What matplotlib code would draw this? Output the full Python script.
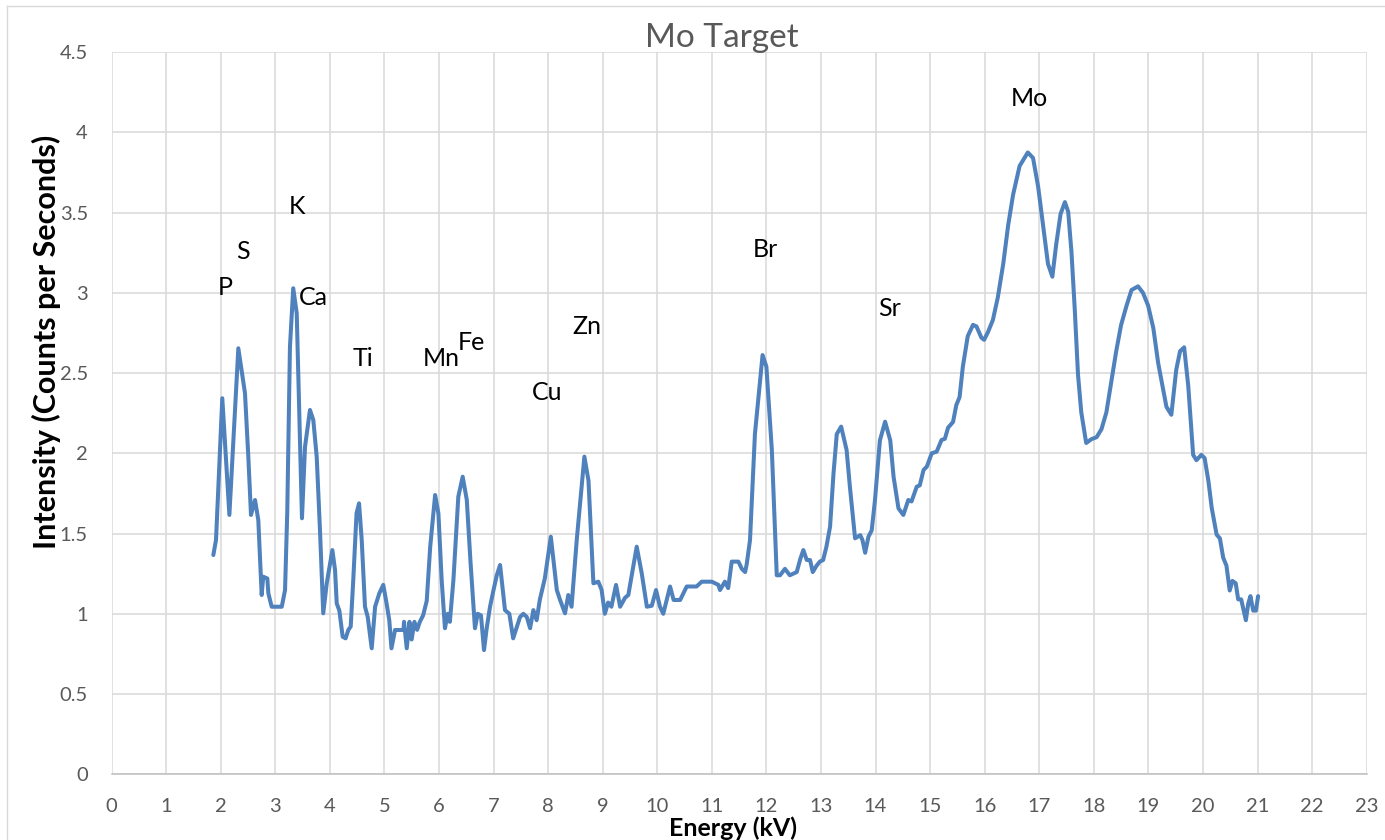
import matplotlib
matplotlib.use("Agg")
import matplotlib.pyplot as plt
from matplotlib.lines import Line2D

plt.rcParams['font.family'] = ['Lato', 'DejaVu Sans']

title = "Mo Target"
x_label = "Energy (kV)"
y_label = "Intensity (Counts per Seconds)"

energy = [
    1.866, 1.915, 2.03, 2.16, 2.324, 2.446, 2.507, 2.556, 2.63, 2.69, 2.752, 2.78, 2.855, 2.874, 2.935,
    3.12, 3.18, 3.22, 3.27, 3.33, 3.394, 3.44, 3.49, 3.546, 3.637, 3.698, 3.76, 3.82, 3.88, 3.944,
    4.047, 4.096, 4.127, 4.175, 4.236, 4.29, 4.34, 4.383, 4.43, 4.49, 4.536, 4.585, 4.645, 4.695, 4.768,
    4.83, 4.908, 4.98, 5.04, 5.09, 5.13, 5.195, 5.35, 5.36, 5.41, 5.46, 5.5, 5.55, 5.6, 5.65, 5.71,
    5.776, 5.84, 5.93, 5.99, 6.05, 6.11, 6.16, 6.2, 6.265, 6.355, 6.435, 6.51, 6.58, 6.66, 6.71, 6.77,
    6.826, 6.875, 6.936, 7.0, 7.06, 7.12, 7.17, 7.21, 7.29, 7.36, 7.42, 7.486, 7.546, 7.61, 7.67, 7.73,
    7.79, 7.85, 7.94, 8.05, 8.16, 8.22, 8.31, 8.37, 8.43, 8.525, 8.665, 8.74, 8.83, 8.92, 8.98, 9.04,
    9.10, 9.16, 9.245, 9.32, 9.41, 9.47, 9.624, 9.716, 9.81, 9.9, 9.978, 10.05, 10.11, 10.235, 10.3,
    10.42, 10.54, 10.72, 10.815, 11.0, 11.12, 11.15, 11.24, 11.3, 11.365, 11.487, 11.55, 11.61, 11.64,
    11.7, 11.79, 11.93, 12.0, 12.1, 12.19, 12.25, 12.34, 12.43, 12.556, 12.62, 12.677, 12.74, 12.8,
    12.85, 12.92, 12.98, 13.04, 13.1, 13.167, 13.23, 13.29, 13.37, 13.47, 13.53, 13.625, 13.72, 13.76,
    13.81, 13.87, 13.93, 13.99, 14.08, 14.175, 14.27, 14.33, 14.42, 14.51, 14.6, 14.66, 14.755, 14.81,
    14.88, 14.94, 15.03, 15.12, 15.21, 15.27, 15.33, 15.42, 15.48, 15.54, 15.6, 15.69, 15.786, 15.85,
    15.94, 15.99, 16.06, 16.15, 16.24, 16.34, 16.43, 16.52, 16.64, 16.79, 16.886, 16.98, 17.07, 17.16,
    17.24, 17.31, 17.39, 17.47, 17.53, 17.59, 17.65, 17.71, 17.77, 17.86, 17.956, 18.05, 18.14, 18.23,
    18.32, 18.41, 18.5, 18.6, 18.69, 18.81, 18.9, 18.995, 19.09, 19.18, 19.27, 19.33, 19.42, 19.51,
    19.58, 19.655, 19.73, 19.82, 19.88, 19.97, 20.03, 20.1, 20.16, 20.25, 20.31, 20.37, 20.43, 20.49,
    20.54, 20.6, 20.645, 20.7, 20.786, 20.83, 20.87, 20.92, 20.97, 21.01,
]

intensity = [
    1.366, 1.46, 2.343, 1.616, 2.654, 2.374, 1.979, 1.616, 1.709, 1.584, 1.117, 1.231, 1.22, 1.128, 1.044,
    1.044, 1.148, 1.626, 2.664, 3.028, 2.872, 2.249, 1.595, 2.041, 2.27, 2.207, 1.979, 1.522, 1.003, 1.19,
    1.397, 1.273, 1.065, 1.02, 0.857, 0.847, 0.9, 0.92, 1.21, 1.626, 1.688, 1.46, 1.044, 0.98, 0.785,
    1.044, 1.128, 1.18, 1.065, 0.96, 0.785, 0.899, 0.899, 0.95, 0.785, 0.95, 0.84, 0.95, 0.90, 0.95, 0.99,
    1.08, 1.418, 1.74, 1.626, 1.21, 0.91, 1.0, 0.95, 1.21, 1.73, 1.854, 1.71, 1.314, 0.91, 1.0, 0.99,
    0.774, 0.91, 1.044, 1.148, 1.24, 1.304, 1.148, 1.023, 1.0, 0.847, 0.91, 0.98, 1.0, 0.98, 0.91, 1.023,
    0.96, 1.09, 1.22, 1.48, 1.148, 1.086, 1.003, 1.117, 1.044, 1.46, 1.979, 1.83, 1.19, 1.2, 1.15, 1.0,
    1.07, 1.044, 1.18, 1.044, 1.1, 1.117, 1.418, 1.252, 1.044, 1.05, 1.148, 1.044, 1.0, 1.17, 1.086,
    1.086, 1.17, 1.17, 1.2, 1.2, 1.18, 1.148, 1.2, 1.16, 1.325, 1.325, 1.28, 1.26, 1.31,
    1.46, 2.12, 2.612, 2.54, 2.02, 1.24, 1.24, 1.28, 1.24, 1.26, 1.34, 1.397, 1.335, 1.335,
    1.26, 1.3, 1.325, 1.335, 1.418, 1.543, 1.875, 2.12, 2.166, 2.02, 1.792, 1.47, 1.49, 1.46,
    1.38, 1.48, 1.52, 1.709, 2.08, 2.197, 2.08, 1.855, 1.657, 1.616, 1.709, 1.7, 1.792, 1.8,
    1.896, 1.917, 2.0, 2.01, 2.083, 2.09, 2.16, 2.195, 2.30, 2.35, 2.54, 2.73, 2.80, 2.79,
    2.72, 2.707, 2.755, 2.83, 2.97, 3.18, 3.42, 3.61, 3.79, 3.874, 3.84, 3.66, 3.42, 3.18,
    3.1, 3.30, 3.49, 3.565, 3.505, 3.255, 2.9, 2.49, 2.255, 2.064, 2.088, 2.1, 2.15, 2.255,
    2.445, 2.636, 2.80, 2.92, 3.017, 3.04, 3.0, 2.92, 2.78, 2.56, 2.40, 2.29, 2.24, 2.52,
    2.636, 2.66, 2.42, 1.99, 1.957, 1.99, 1.97, 1.826, 1.66, 1.493, 1.47, 1.35, 1.30, 1.145,
    1.205, 1.19, 1.09, 1.09, 0.96, 1.065, 1.11, 1.02, 1.02, 1.11,
]

element_names = ["P", "S", "K", "Ca", "Ti", "Mn", "Fe", "Cu", "Zn", "Br", "Sr", "Mo"]
element_x = [2.08, 2.40, 3.39, 3.70, 4.60, 6.05, 6.60, 7.98, 8.71, 11.98, 14.25, 16.82]
element_y = [3.03, 3.26, 3.54, 2.97, 2.59, 2.59, 2.69, 2.38, 2.79, 3.27, 2.90, 4.21]

x_ticks = list(range(0, 24))
y_ticks = [0, 0.5, 1, 1.5, 2, 2.5, 3, 3.5, 4, 4.5]
y_tick_labels = ["0", "0.5", "1", "1.5", "2", "2.5", "3", "3.5", "4", "4.5"]

W, H = 1385, 840
fig = plt.figure(figsize=(W / 100, H / 100), dpi=100)
fig.patch.set_facecolor("white")

# outer chart border (left and top visible)
fig.add_artist(Line2D([7 / W, 7 / W], [0, 1 - 6 / H], color="#D9D9D9", lw=1.0, transform=fig.transFigure))
fig.add_artist(Line2D([7 / W, 1], [1 - 6 / H, 1 - 6 / H], color="#D9D9D9", lw=1.0, transform=fig.transFigure))

left, right, top, bottom = 111.5, 1366.7, 52.0, 774.3
ax = fig.add_axes([left / W, 1 - bottom / H, (right - left) / W, (bottom - top) / H])

ax.plot(energy, intensity, color="#4F81BD", lw=2.9, solid_joinstyle="round", solid_capstyle="round", zorder=3)

ax.set_xlim(0, 23)
ax.set_ylim(0, 4.5)
ax.set_xticks(x_ticks)
ax.set_xticklabels([str(t) for t in x_ticks])
ax.set_yticks(y_ticks)
ax.set_yticklabels(y_tick_labels)
ax.grid(True, color="#D9D9D9", lw=1.1, zorder=0)
ax.set_axisbelow(True)
for s in ["top", "right", "left"]:
    ax.spines[s].set_visible(False)
ax.spines["bottom"].set_color("#BFBFBF")
ax.spines["bottom"].set_linewidth(1.1)
ax.tick_params(axis="both", length=0, labelsize=14.5, labelcolor="#595959")
ax.tick_params(axis="y", pad=17)
ax.tick_params(axis="x", pad=17)

for name, ex, ey in zip(element_names, element_x, element_y):
    ax.text(ex, ey, name, ha="center", va="center", fontsize=18, color="black")

fig.text(721.7 / W, 1 - 46.7 / H, title, ha="center", va="baseline", fontsize=24, color="#595959")
fig.text(733 / W, 1 - 828 / H, x_label, ha="center", va="center", fontsize=18, fontweight="bold", color="black")
fig.text(46 / W, 1 - 342 / H, y_label, ha="center", va="center", rotation=90, fontsize=22, fontweight="bold", color="black")

fig.savefig("out.png", dpi=100, facecolor="white")
